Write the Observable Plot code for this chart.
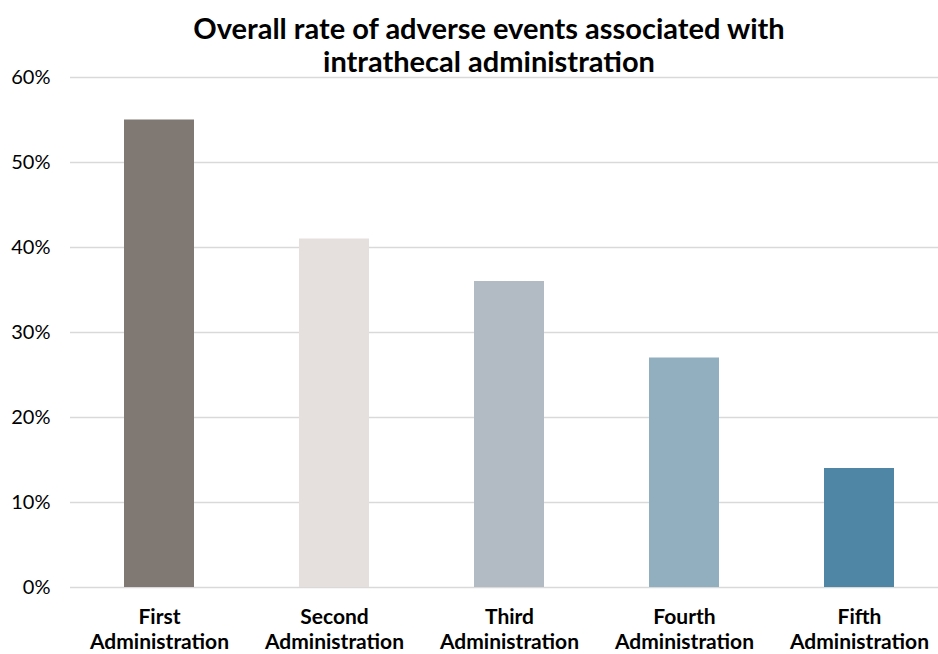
<!DOCTYPE html>
<html>
<head>
<meta charset="utf-8">
<script src="https://cdn.jsdelivr.net/npm/d3@7"></script>
<script src="https://cdn.jsdelivr.net/npm/@observablehq/plot@0.6"></script>
<style>
  html, body { margin: 0; padding: 0; background: #fff; }
  #wrap { position: relative; width: 938px; height: 654px; overflow: hidden; }
  #title {
    position: absolute; left: 20px; top: 11px; width: 938px;
    text-align: center; font-family: Lato, sans-serif; font-weight: bold;
    font-size: 29px; line-height: 33px; color: #000;
  }
</style>
</head>
<body>
<div id="wrap">
  <div id="chart"></div>
  <div id="title">Overall rate of adverse events associated with<br>intrathecal administration</div>
</div>
<script>
const categories = ["First Administration", "Second Administration", "Third Administration", "Fourth Administration", "Fifth Administration"];
const values = [0.55, 0.41, 0.36, 0.27, 0.14];
const colors = ["#7f7873", "#e5e0dd", "#b2bbc3", "#92afc0", "#4f86a5"];
const yTicks = [0, 0.1, 0.2, 0.3, 0.4, 0.5, 0.6];

const data = categories.map((c, i) => ({category: c, value: values[i], color: colors[i]}));

const chart = Plot.plot({
  width: 938,
  height: 654,
  marginLeft: 70,
  marginRight: 0,
  marginTop: 77,
  marginBottom: 67,
  style: {fontFamily: "Lato, sans-serif", color: "#000", background: "#fff"},
  x: {domain: categories, range: [72, 947], paddingInner: 0.6, paddingOuter: 0.3, axis: null, label: null},
  y: {domain: [0, 0.6], axis: null, label: null},
  color: {type: "identity"},
  marks: [
    Plot.gridY(yTicks, {stroke: "#d9d9d9", strokeOpacity: 1, strokeWidth: 1.5}),
    Plot.barY(data, {x: "category", y: "value", fill: "color"}),
    Plot.axisY(yTicks, {tickSize: 0, tickPadding: 20, tickFormat: d3.format(".0%"), fontSize: 20, fill: "#000", label: null}),
    Plot.axisX(categories, {tickSize: 0, tickPadding: 18, fontSize: 21, fontWeight: "bold", lineHeight: 1.22, fill: "#000", label: null,
      tickFormat: d => d.replace(" ", "\n")})
  ]
});
document.getElementById("chart").appendChild(chart);
</script>
</body>
</html>
